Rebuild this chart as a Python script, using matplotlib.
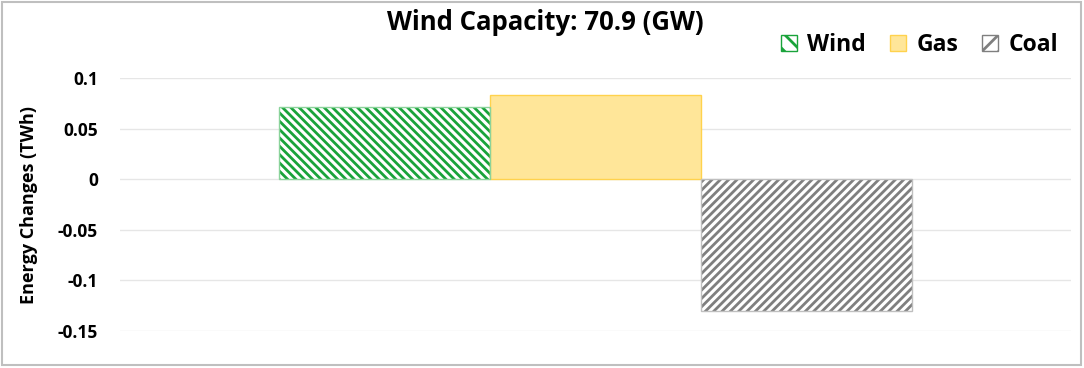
import matplotlib.pyplot as plt
from matplotlib.patches import Patch, Rectangle

sources = ["Wind", "Gas", "Coal"]
changes = [0.071, 0.083, -0.130]
y_ticks = [0.1, 0.05, 0, -0.05, -0.1, -0.15]
y_labels = ["0.1", "0.05", "0", "-0.05", "-0.1", "-0.15"]

hatch_colors = ["#19A33A", "#FFE699", "#7F7F7F"]
edge_colors = ["#8BD39B", "#FFD24D", "#BFBFBF"]
hatches = ["\\\\\\\\", "", "////"]

plt.rcParams['font.family'] = ['Open Sans', 'DejaVu Sans']
plt.rcParams['hatch.linewidth'] = 2.0


def do_graph():
    fig = plt.figure(figsize=(10.84, 3.68), dpi=100)
    ax = fig.add_axes([120 / 1084, 37 / 368, 951 / 1084, 253 / 368])

    x = list(range(len(sources)))
    for i in x:
        if hatches[i]:
            ax.bar(i, changes[i], width=1, color="white",
                   edgecolor=hatch_colors[i], hatch=hatches[i], linewidth=0,
                   zorder=3)
            ax.bar(i, changes[i], width=1, fill=False,
                   edgecolor=edge_colors[i], linewidth=1, zorder=4)
        else:
            ax.bar(i, changes[i], width=1, color=hatch_colors[i],
                   edgecolor=edge_colors[i], linewidth=1, zorder=3)

    ax.set_xlim(-1.254, 3.254)
    ax.set_ylim(-0.15, 0.1)
    ax.set_yticks(y_ticks)
    ax.set_yticklabels(y_labels, fontsize=12.5, fontweight='bold')
    ax.set_xticks([])
    ax.tick_params(axis='y', length=0, pad=16)
    ax.grid(axis='y', color="#E6E6E6", linewidth=1, zorder=0)
    for s in ax.spines.values():
        s.set_visible(False)
    ax.set_ylabel("Energy Changes (TWh)", fontsize=13, fontweight='bold')
    ax.yaxis.set_label_coords(-0.086, 0.5)

    fig.text(0.503, 1 - 23 / 368, "Wind Capacity: 70.9 (GW)", ha='center',
             va='center', fontsize=18.5, fontweight='bold')

    handles = []
    for i in x:
        if hatches[i]:
            handles.append(Patch(facecolor="white", edgecolor=hatch_colors[i],
                                 hatch=hatches[i][:2], linewidth=1))
        else:
            handles.append(Patch(facecolor=hatch_colors[i],
                                 edgecolor=edge_colors[i], linewidth=1))
    fig.legend(handles, sources, loc='center right',
               bbox_to_anchor=(1079 / 1084, 1 - 45 / 368), ncol=3,
               frameon=False, handlelength=0.7, handleheight=0.7,
               handletextpad=0.45, columnspacing=1.05,
               prop={'weight': 'bold', 'size': 16.5})

    fig.patches.append(Rectangle((2 / 1084, 3 / 368), 1079 / 1084, 363 / 368,
                                 transform=fig.transFigure, fill=False,
                                 edgecolor="#BFBFBF", linewidth=1.5))

    fig.savefig("out.png", dpi=100)


def main():
    do_graph()


if __name__ == "__main__":
    main()
